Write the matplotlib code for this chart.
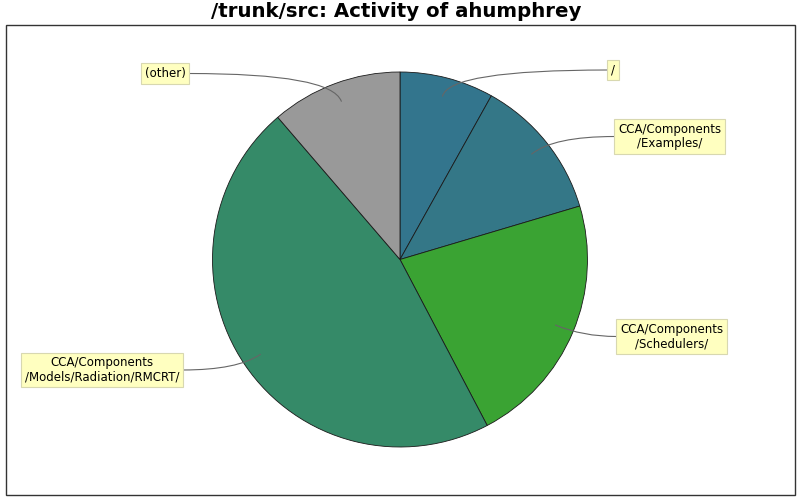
import matplotlib
matplotlib.use("Agg")
import matplotlib.pyplot as plt
import numpy as np
from matplotlib.patches import Rectangle

title = "/trunk/src: Activity of ahumphrey"
labels = ["/", "CCA/Components\n/Examples/", "CCA/Components\n/Schedulers/",
          "CCA/Components\n/Models/Radiation/RMCRT/", "(other)"]
values = [8.1, 12.3, 21.9, 46.4, 11.3]
colors = ["#33758d", "#347787", "#3aa333", "#358a68", "#999999"]
# label box centres (pixel coordinates, y down)
label_pos = [(613, 70), (669.5, 136.5), (671.5, 336.5), (102, 370), (165, 73.5)]

W, H = 800, 500
fig = plt.figure(figsize=(8, 5), dpi=100)
ax = fig.add_axes([0, 0, 1, 1])

cx, cy, r = 400, H - 259.5, 187.5
wedges, _ = ax.pie(values, colors=colors, startangle=90, counterclock=False,
                   center=(cx, cy), radius=r, frame=True,
                   wedgeprops=dict(edgecolor="#1a1a1a", linewidth=0.6))
ax.set_xlim(0, W)
ax.set_ylim(0, H)
ax.set_aspect("equal")
ax.axis("off")

# frame
ax.add_patch(Rectangle((5.5, 5.5), 789.5, 469.5, fill=False, edgecolor="#333333", linewidth=1))

ax.text(396, H - 17.3, title, ha="center", va="baseline", fontsize=14.2,
        fontweight="bold", family="DejaVu Sans")

total = sum(values)
cum = 0
for v, lab, (lx, ly) in zip(values, labels, label_pos):
    mid = 90 - (cum + v / 2) / total * 360
    cum += v
    ang = np.deg2rad(mid)
    ax_x = cx + 0.9 * r * np.cos(ang)
    ax_y = cy + 0.9 * r * np.sin(ang)
    ly_up = H - ly
    t = ax.text(lx, ly_up, lab, ha="center", va="center", fontsize=8.5,
                family="DejaVu Sans", color="#000000", linespacing=1.15,
                bbox=dict(boxstyle="square,pad=0.3", facecolor="#ffffc0",
                          edgecolor="#d8d8b0", linewidth=0.8), zorder=5)
    fig.canvas.draw()
    bb = t.get_bbox_patch().get_window_extent()
    inv = ax.transData.inverted()
    (x0, _), (x1, _) = inv.transform([[bb.x0, bb.y0], [bb.x1, bb.y1]])
    sx = x0 if lx > cx else x1
    ax.annotate("", xy=(ax_x, ax_y), xytext=(sx, ly_up),
                arrowprops=dict(arrowstyle="-", color="#666666", linewidth=0.8,
                                shrinkA=0, shrinkB=0,
                                connectionstyle=f"angle3,angleA=0,angleB={mid}"),
                zorder=4)

fig.savefig("out.png", dpi=100)
